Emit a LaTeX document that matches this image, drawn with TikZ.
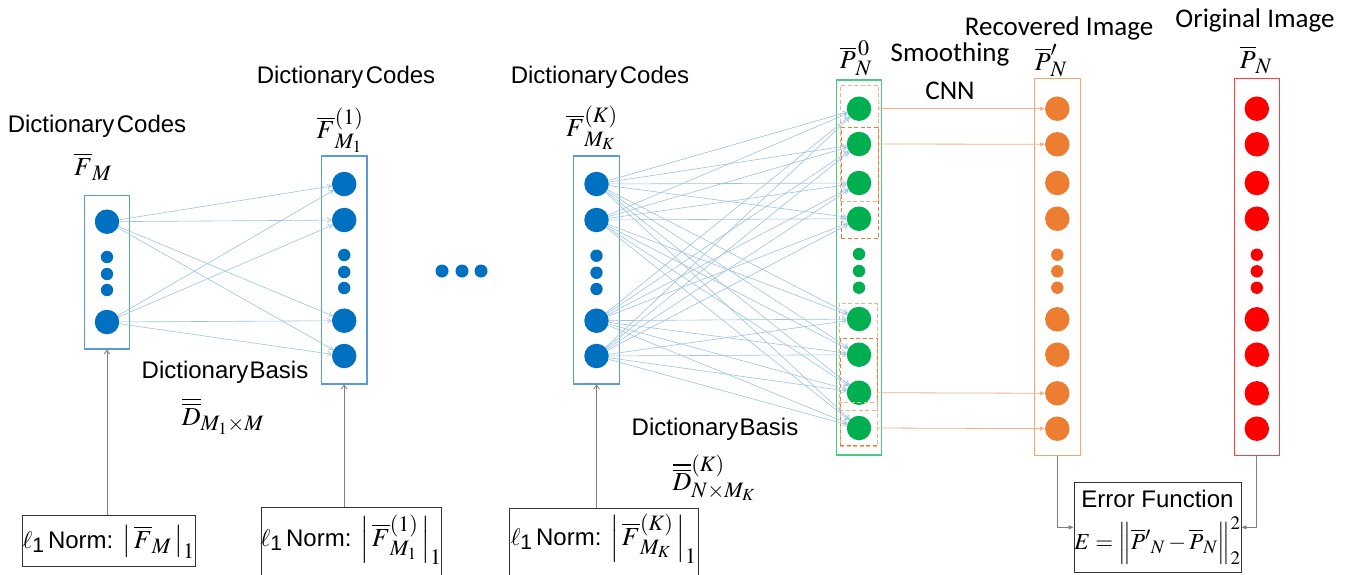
\documentclass[tikz,border=0pt]{standalone}
\usepackage{mathptmx}
\usepackage[no-math]{fontspec}
\setmainfont{Liberation Serif}
\newfontfamily\arialfont{Liberation Sans}
\newfontfamily\calfont{Carlito}
\usetikzlibrary{arrows.meta}
\DeclareMathSizes{26}{26}{22}{17}
\DeclareMathSizes{23}{23}{19}{15}

\definecolor{boxblue}{HTML}{5B9BD5}
\definecolor{dotblue}{HTML}{0070C0}
\definecolor{linkblue}{HTML}{9DC3E6}
\definecolor{dotgreen}{HTML}{00B050}
\definecolor{boxgreen}{HTML}{4CC987}
\definecolor{dotorange}{HTML}{ED7D31}
\definecolor{boxorange}{HTML}{F4A86E}
\definecolor{lightorange}{HTML}{F4B183}
\definecolor{dotred}{HTML}{FF0000}
\definecolor{boxred}{HTML}{FF4040}
\definecolor{feedgray}{HTML}{7F7F7F}

\begin{document}
\begin{tikzpicture}[x=1pt,y=-1pt,
  colbox/.style={draw=#1, line width=1.1pt, minimum width=45.5, inner sep=0},
  big/.style={circle, fill=#1, minimum size=24.5, inner sep=0},
  small/.style={circle, fill=#1, minimum size=12.4, inner sep=0},
  link/.style={draw=linkblue, line width=0.6pt, -{Straight Barb[length=4pt,width=5pt]}},
  hop/.style={draw=lightorange, line width=0.8pt, -{Triangle[length=5pt,width=4pt]}},
  feed/.style={draw=feedgray, line width=0.8pt, -{Straight Barb[length=4pt,width=6pt]}},
  errfeed/.style={draw=feedgray, line width=0.9pt, -{Triangle[length=5pt,width=4pt]}},
  normbox/.style={draw=black!80, line width=0.9pt, inner sep=0},
  dashbox/.style={draw=#1, dashed, dash pattern=on 4pt off 2.5pt, line width=1pt, inner sep=0},
  sanslbl/.style={font=\arialfont\fontsize{24}{28}\selectfont, anchor=base, inner sep=0},
  callbl/.style={font=\calfont\fontsize{27}{32}\selectfont, anchor=base, inner sep=0},
  mathlbl/.style={font=\fontsize{26}{30}\selectfont, inner sep=0}
]
\clip (0,0) rectangle (1358,574);
\fill[white] (0,0) rectangle (1358,574);

% ---------- first code layer ----------
\node[colbox=boxblue, minimum height=153.3] (C1) at (107,272.3) {};
\node[big=dotblue] (a1) at (107,221.7) {};
\node[small=dotblue] (a3) at (107,257) {};
\node[small=dotblue] (a4) at (107,274) {};
\node[small=dotblue] (a5) at (107,290) {};
\node[big=dotblue] (a2) at (107,322) {};

% ---------- second code layer ----------
\node[colbox=boxblue, minimum height=228] (C2) at (344.2,270) {};
\node[big=dotblue] (b1) at (344.2,184) {};
\node[big=dotblue] (b2) at (344.2,220) {};
\node[small=dotblue] (b5) at (344.2,255) {};
\node[small=dotblue] (b6) at (344.2,272) {};
\node[small=dotblue] (b7) at (344.2,288) {};
\node[big=dotblue] (b3) at (344.2,320.7) {};
\node[big=dotblue] (b4) at (344.2,356) {};

% ---------- ellipsis between layers ----------
\node[small=dotblue, minimum size=13] (e1) at (442,271) {};
\node[small=dotblue, minimum size=13] (e2) at (462,271) {};
\node[small=dotblue, minimum size=13] (e3) at (481,271) {};

% ---------- K-th code layer ----------
\node[colbox=boxblue, minimum height=228] (C3) at (596.5,270) {};
\node[big=dotblue] (k1) at (596.5,184) {};
\node[big=dotblue] (k2) at (596.5,220) {};
\node[small=dotblue] (k5) at (596.5,255.7) {};
\node[small=dotblue] (k6) at (596.5,272.7) {};
\node[small=dotblue] (k7) at (596.5,289) {};
\node[big=dotblue] (k3) at (596.5,320.7) {};
\node[big=dotblue] (k4) at (596.5,356) {};

% ---------- initial image layer ----------
\node[colbox=boxgreen, minimum height=375] (G) at (859,267.5) {};
\foreach \i/\y in {1/108.7,2/144,3/183,4/218.7,5/319,6/354.7,7/392.7,8/428}
  \node[big=dotgreen] (g\i) at (859,\y) {};
\foreach \i/\y in {9/254,10/271,11/287.7}
  \node[small=dotgreen] (g\i) at (859,\y) {};
\node[dashbox=lightorange, minimum width=38.4, minimum height=116.7] (dA) at (859.5,143.4) {};
\node[dashbox=dotorange, minimum width=37.4, minimum height=111] (dB) at (860,182.8) {};
\node[dashbox=lightorange, minimum width=37.7, minimum height=106.7] (dC) at (858.2,356.7) {};
\node[dashbox=dotorange, minimum width=37.4, minimum height=107.4] (dD) at (859,392) {};
\node[dashbox=lightorange, minimum width=37.4, minimum height=44] (dE) at (858.7,424) {};

% ---------- recovered image layer ----------
\node[colbox=boxorange, minimum height=376.3] (O) at (1057.3,266.9) {};
\foreach \i/\y in {1/108.7,2/144.3,3/183,4/218.7,5/319.3,6/354.7,7/393.3,8/428.7}
  \node[big=dotorange] (o\i) at (1057.3,\y) {};
\foreach \i/\y in {9/254.7,10/271.3,11/287.7}
  \node[small=dotorange] (o\i) at (1057.3,\y) {};

% ---------- original image layer ----------
\node[colbox=boxred, minimum height=376.3] (R) at (1256.8,266.9) {};
\foreach \i/\y in {1/108.7,2/144.3,3/183,4/218.7,5/319.3,6/354.7,7/393.3,8/428.7}
  \node[big=dotred] (r\i) at (1256.8,\y) {};
\foreach \i/\y in {9/254.7,10/271.3,11/287.7}
  \node[small=dotred] (r\i) at (1256.8,\y) {};

% ---------- dictionary connections ----------
\foreach \s in {1,2}
  \foreach \t in {1,2,3,4}
    \draw[link] (a\s) -- (b\t);
\foreach \s in {1,2,3,4}
  \foreach \t in {1,2,3,4,5,6,7,8}
    \draw[link] (k\s) -- (g\t);

% ---------- smoothing connections ----------
\draw[hop] (g1 -| dA.east) -- (o1);
\draw[hop] (g2 -| dB.east) -- (o2);
\draw[hop] (g7 -| dD.east) -- (o7);
\draw[hop] (g8 -| dD.east) -- (o8);

% ---------- l1 norm boxes ----------
\node[normbox, minimum width=173, minimum height=51] (n1) at (108.5,540.5) {};
\node[normbox, minimum width=180, minimum height=90] (n2) at (351,552) {};
\node[normbox, minimum width=189, minimum height=90] (n3) at (603.5,553) {};
\node[sanslbl] (t1) at (108.5,548) {$\ell$\raisebox{-4pt}{\fontsize{21}{21}\selectfont 1}\,Norm: {\fontsize{26}{30}\selectfont$\left|\,\overline{F}_{M}\,\right|_{1}$}};
\node[sanslbl] (t2) at (351,546) {$\ell$\raisebox{-4pt}{\fontsize{21}{21}\selectfont 1}\,Norm: {\fontsize{26}{30}\selectfont$\left|\,\overline{F}^{(1)}_{M_1}\,\right|_{1}$}};
\node[sanslbl] (t3) at (603.5,545) {$\ell$\raisebox{-4pt}{\fontsize{21}{21}\selectfont 1}\,Norm: {\fontsize{26}{30}\selectfont$\left|\,\overline{F}^{(K)}_{M_K}\,\right|_{1}$}};
\draw[feed] (C1.south |- n1.north) -- (C1.south);
\draw[feed] (C2.south |- n2.north) -- (C2.south);
\draw[feed] (C3.south |- n3.north) -- (C3.south);

% ---------- error function ----------
\node[normbox, minimum width=167, minimum height=90.7, align=center] (err) at (1157.5,527.3)
  {{\arialfont\fontsize{24}{28}\selectfont Error Function}\\[9pt]
   {\fontsize{23}{26}\selectfont$E=\Bigl\|\overline{P}{}'{}_{N}-\overline{P}_{N}\Bigr\|_{2}^{2}$}};
\draw[errfeed] (O.south) |- (err.west);
\draw[errfeed] (R.south) |- (err.east);

% ---------- labels ----------
\node[sanslbl] (l1) at (97,132) {Dictionary\hspace{0.1em}Codes};
\node[sanslbl] (l2) at (346,83) {Dictionary\hspace{0.1em}Codes};
\node[sanslbl] (l3) at (600,83) {Dictionary\hspace{0.1em}Codes};
\node[sanslbl] (l4) at (225,378) {Dictionary\hspace{0.05em}Basis};
\node[sanslbl] (l5) at (715,435) {Dictionary\hspace{0.05em}Basis};
\node[mathlbl] (m1) at (93,167) {$\overline{F}_{M}$};
\node[mathlbl] (m2) at (340,130) {$\overline{F}^{(1)}_{M_1}$};
\node[mathlbl] (m3) at (592,128) {$\overline{F}^{(K)}_{M_K}$};
\node[mathlbl] (m4) at (223,416) {$\overline{\overline{D}}_{M_1\times M}$};
\node[mathlbl] (m5) at (714,478) {$\overline{\overline{D}}^{(K)}_{N\times M_K}$};
\node[mathlbl] (m6) at (856,58) {$\overline{P}^{\,0}_{N}$};
\node[mathlbl] (m7) at (1051,61) {$\overline{P}'_{N}$};
\node[mathlbl] (m8) at (1256,60) {$\overline{P}_{N}$};
\node[callbl] (l6) at (950,61) {Smoothing};
\node[callbl] (l7) at (950,99) {CNN};
\node[callbl] (l8) at (1059,35) {Recovered Image};
\node[callbl] (l9) at (1255,27) {Original Image};
\end{tikzpicture}
\end{document}
